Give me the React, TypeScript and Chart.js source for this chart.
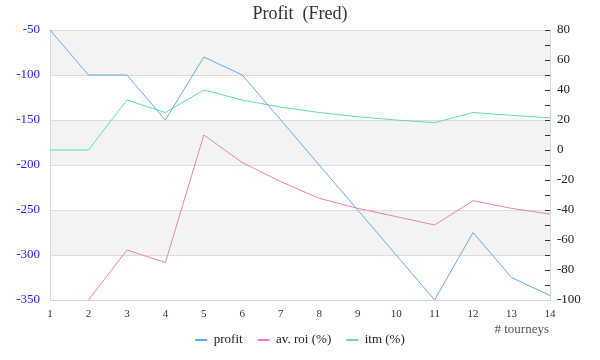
import React, { useEffect, useRef } from "react";
import { Chart, registerables } from "chart.js";

Chart.register(...registerables);

const tourneys = [1, 2, 3, 4, 5, 6, 7, 8, 9, 10, 11, 12, 13, 14];
const profit = [-50, -100, -100, -150, -80, -100, -150, -200, -250, -300, -350, -275, -325, -345];
const avRoi = [null, -100, -66.7, -75, 10, -8.4, -21.1, -32.2, -38.9, -44.4, -50, -33.8, -38.9, -42.7];
const itm = [0, 0, 33.3, 25, 40, 33.3, 28.6, 25, 22.2, 20, 18.2, 25, 23.1, 21.4];

const titleText = "Profit  (Fred)";
const xTitle = "# tourneys";
const seriesNames = ["profit", "av. roi (%)", "itm (%)"];
const colors = ["#66aaee", "#f07fb5", "#5ee0a2"];

const FONT = "'Liberation Serif', 'Times New Roman', serif";

const bandsPlugin = {
  id: "bands",
  beforeDraw(chart: any) {
    const { ctx, chartArea } = chart;
    const y = chart.scales.y;
    const ticks = y.ticks;
    ctx.save();
    ctx.fillStyle = "#f3f3f3";
    for (let i = ticks.length - 1; i > 0; i -= 2) {
      const top = y.getPixelForValue(ticks[i].value);
      const bottom = y.getPixelForValue(ticks[i - 1].value);
      ctx.fillRect(chartArea.left, top, chartArea.right - chartArea.left, bottom - top);
    }
    ctx.restore();
  },
};

const xTitlePlugin = {
  id: "xTitle",
  afterDraw(chart: any) {
    const { ctx, chartArea } = chart;
    ctx.save();
    ctx.font = `13px ${FONT}`;
    ctx.fillStyle = "#555";
    ctx.textAlign = "right";
    ctx.textBaseline = "middle";
    ctx.fillText(xTitle, chartArea.right - 1, chartArea.bottom + 30);
    ctx.restore();
  },
};

export default function App() {
  const ref = useRef<HTMLCanvasElement>(null);
  useEffect(() => {
    if (!ref.current) return;
    const mk = (arr: (number | null)[]) => tourneys.map((t, i) => ({ x: t, y: arr[i] }));
    const chart = new Chart(ref.current, {
      type: "line",
      data: {
        datasets: [
          { label: seriesNames[0], data: mk(profit), yAxisID: "y", borderColor: colors[0], backgroundColor: colors[0], borderWidth: 1, pointRadius: 0, tension: 0 },
          { label: seriesNames[1], data: mk(avRoi), yAxisID: "y1", borderColor: colors[1], backgroundColor: colors[1], borderWidth: 1, pointRadius: 0, tension: 0 },
          { label: seriesNames[2], data: mk(itm), yAxisID: "y1", borderColor: colors[2], backgroundColor: colors[2], borderWidth: 1, pointRadius: 0, tension: 0 },
        ] as any,
      },
      options: {
        responsive: false,
        animation: false,
        layout: { padding: { left: 0, right: 0, top: 0, bottom: 3.5 } },
        font: { family: FONT },
        plugins: {
          title: {
            display: true,
            text: titleText,
            color: "#333",
            font: { family: FONT, size: 18, weight: "normal" },
            padding: { top: 3, bottom: 5.4 },
          },
          legend: {
            position: "bottom",
            labels: {
              font: { family: FONT, size: 13 },
              color: "#222",
              boxWidth: 12,
              boxHeight: 2,
              padding: 15,
              generateLabels: (c: any) =>
                Chart.defaults.plugins.legend.labels.generateLabels(c).map((it: any) => ({ ...it, lineWidth: 0 })),
            },
          },
          tooltip: { enabled: false },
        },
        scales: {
          x: {
            type: "linear",
            min: 1,
            max: 14,
            ticks: { stepSize: 1, color: "#333", font: { family: FONT, size: 11 }, padding: 0, autoSkip: false, maxRotation: 0 },
            grid: { display: false },
            border: { color: "#d8d8d8" },
            afterFit: (s: any) => { s.height = 18.5; },
          },
          y: {
            position: "left",
            min: -350,
            max: -50,
            ticks: { stepSize: 50, color: "#1c1cff", font: { family: FONT, size: 13 }, padding: 10 },
            grid: { color: "#dcdcdc", drawTicks: false },
            border: { color: "#d8d8d8" },
            afterFit: (s: any) => { s.width = 50; },
          },
          y1: {
            position: "right",
            min: -100,
            max: 80,
            ticks: {
              stepSize: 10,
              autoSkip: false,
              color: "#222",
              font: { family: FONT, size: 13 },
              padding: 12,
              callback: (v: any) => (Math.round(v) % 20 === 0 ? String(v) : ""),
            },
            grid: { drawOnChartArea: false, tickLength: -5, tickColor: "#333" },
            border: { color: "#d8d8d8" },
            afterFit: (s: any) => { s.width = 50; },
          },
        },
      } as any,
      plugins: [bandsPlugin, xTitlePlugin],
    });
    return () => chart.destroy();
  }, []);
  return (
    <div style={{ position: "absolute", left: 0, top: 0, width: 600, height: 360, background: "#fff" }}>
      <canvas ref={ref} width={600} height={360} />
    </div>
  );
}
